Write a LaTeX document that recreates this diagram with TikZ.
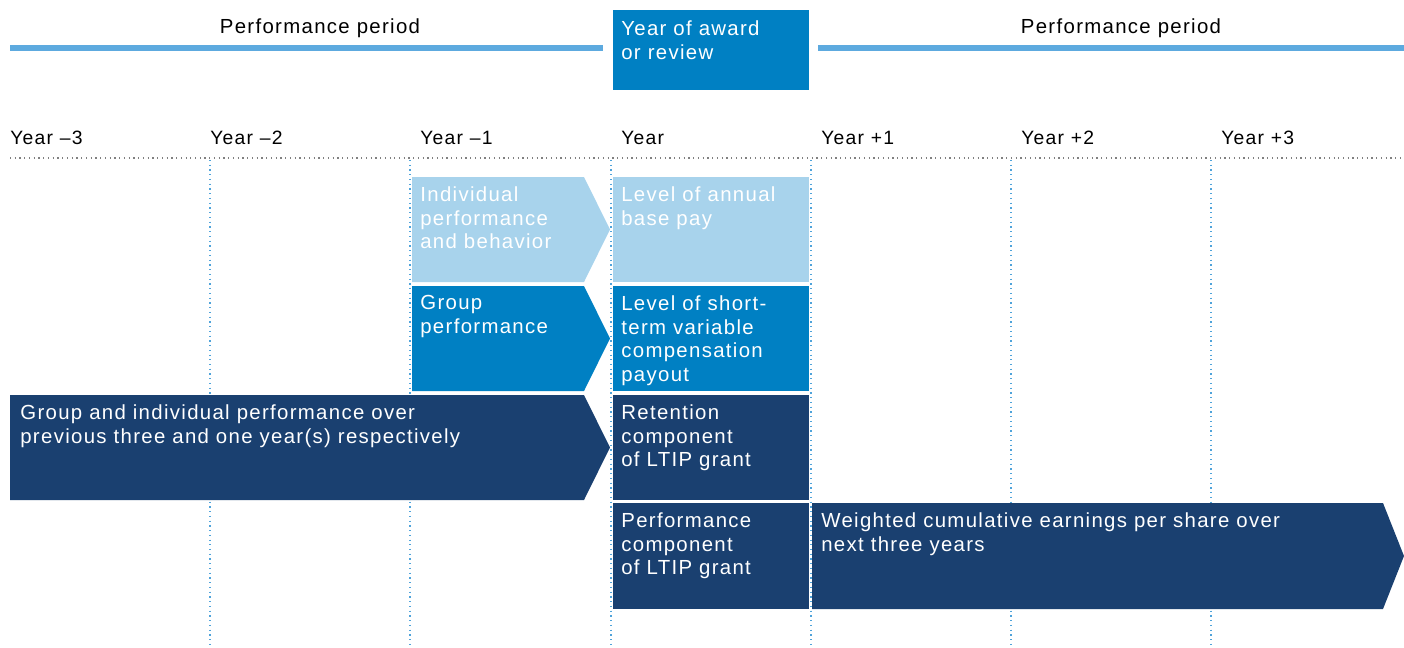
\documentclass[tikz,border=0pt]{standalone}
\usepackage{fontspec}
\setmainfont{Liberation Sans}[LetterSpace=6.5]
\definecolor{paleblue}{HTML}{A8D3EC}
\definecolor{midblue}{HTML}{0080C3}
\definecolor{navy}{HTML}{1A4070}
\definecolor{barblue}{HTML}{5DAADF}
\definecolor{dotblue}{HTML}{4FA3DA}
\tikzset{
  boxtxt/.style={anchor=north west, inner sep=0pt, align=left, text=white, font=\fontsize{11.6}{13.6}\selectfont},
  headtxt/.style={inner sep=0pt, font=\fontsize{11.6}{13.6}\selectfont},
  yeartxt/.style={anchor=base west, inner sep=0pt, font=\fontsize{11}{13.6}\selectfont},
  gridline/.style={dotblue, dotted, line width=0.7pt},
  periodbar/.style={barblue, line width=2.9pt}
}
\begin{document}
\begin{tikzpicture}[x=0.02cm,y=-0.02cm]
\useasboundingbox (0,0) rectangle (1404,647);
\foreach \x in {210,410,611,811,1011,1211}
  \draw[gridline] (\x,160) -- (\x,647);
\draw[gray, dotted, line width=0.7pt] (10,158) -- (1404,158);
\draw[periodbar] (10,48) -- (603,48);
\draw[periodbar] (818,48) -- (1404,48);
\node[headtxt] (perleft) at (320,28) {Performance period};
\node[headtxt] (perright) at (1121,28) {Performance period};
\fill[midblue] (613,10) rectangle (809,90);
\node[boxtxt] (award) at (621,20) {Year of award\\or review};
\node[yeartxt] (ym3) at (10,144) {Year –3};
\node[yeartxt] (ym2) at (210,144) {Year –2};
\node[yeartxt] (ym1) at (420,144) {Year –1};
\node[yeartxt] (y0) at (621,144) {Year};
\node[yeartxt] (yp1) at (821,144) {Year +1};
\node[yeartxt] (yp2) at (1021,144) {Year +2};
\node[yeartxt] (yp3) at (1221,144) {Year +3};
\fill[paleblue] (412,177) -- (584,177) -- (610,229.5) -- (584,282) -- (412,282) -- cycle;
\fill[paleblue] (613,177) rectangle (809,282);
\fill[midblue] (412,286) -- (584,286) -- (610,338.5) -- (584,391) -- (412,391) -- cycle;
\fill[midblue] (613,286) rectangle (809,391);
\fill[navy] (10,395) -- (584,395) -- (610,447.5) -- (584,500) -- (10,500) -- cycle;
\fill[navy] (613,395) rectangle (809,500);
\fill[navy] (613,503) rectangle (809,609);
\fill[navy] (812,503) -- (1383,503) -- (1404,556) -- (1383,609) -- (812,609) -- cycle;
\node[boxtxt] (indiv) at (420,186) {Individual\\performance\\and behavior};
\node[boxtxt] (basepay) at (621,186) {Level of annual\\base pay};
\node[boxtxt] (group) at (420,295) {Group\\performance};
\node[boxtxt] (stvc) at (621,295) {Level of short-\\term variable\\compensation\\payout};
\node[boxtxt] (both) at (20,404) {Group and individual performance over\\previous three and one year(s) respectively};
\node[boxtxt] (retain) at (621,404) {Retention\\component\\of LTIP grant};
\node[boxtxt] (perf) at (621,512) {Performance\\component\\of LTIP grant};
\node[boxtxt] (eps) at (821,512) {Weighted cumulative earnings per share over\\next three years};
\end{tikzpicture}
\end{document}
